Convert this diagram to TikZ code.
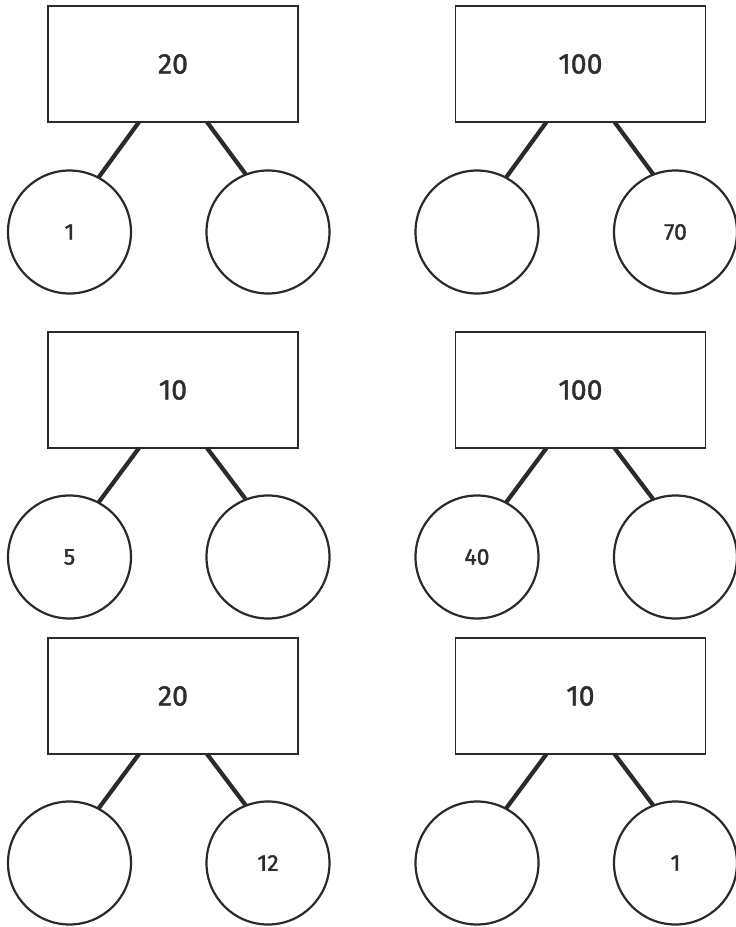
\documentclass[tikz,border=0pt]{standalone}
\usepackage{fontspec}
\setmainfont{Fira Sans}
\newfontfamily\numfont{Fira Sans}[BoldFont={Fira Sans},BoldFeatures={FakeBold=1.4}]
\definecolor{ink}{HTML}{2A2A2A}
\definecolor{txt}{HTML}{2E2E2E}
\tikzset{
  box/.style={draw=ink,line width=1.6pt,minimum width=250pt,minimum height=116pt,inner sep=0pt,outer sep=0pt,font=\numfont\bfseries\fontsize{28.5}{31}\selectfont,text=txt},
  ball/.style={draw=ink,line width=2.2pt,circle,minimum size=123pt,inner sep=0pt,outer sep=0pt,font=\numfont\bfseries\fontsize{23}{26}\selectfont,text=txt},
  link/.style={draw=ink,line width=4.2pt}
}
% #1 name prefix, #2 box centre x, #3 box centre y, #4 circle centre y,
% #5 top label, #6 left label, #7 right label
\newcommand{\bondtree}[7]{%
  \node[box] (#1r) at (#2,#3) {\raisebox{-3pt}{#5}};
  \node[ball] (#1a) at ({#2-103.5},#4) {#6};
  \node[ball] (#1b) at ({#2+95},#4) {#7};
  \coordinate (#1p) at ([xshift=-34pt]#1r.south);
  \coordinate (#1q) at ([xshift=34pt]#1r.south);
  \draw[link] (#1p) -- (#1a.62);
  \draw[link] (#1q) -- (#1b.111);
}
\begin{document}
\begin{tikzpicture}[x=1pt,y=-1pt]
  \useasboundingbox (0,0) rectangle (736,927);
  \bondtree{A}{173}{64}{232}{20}{1}{}
  \bondtree{B}{580.5}{64}{232}{100}{}{70}
  \bondtree{C}{173}{390}{557}{10}{5}{}
  \bondtree{D}{580.5}{390}{557}{100}{40}{}
  \bondtree{E}{173}{696}{863}{20}{}{12}
  \bondtree{F}{580.5}{696}{863}{10}{}{1}
\end{tikzpicture}
\end{document}
